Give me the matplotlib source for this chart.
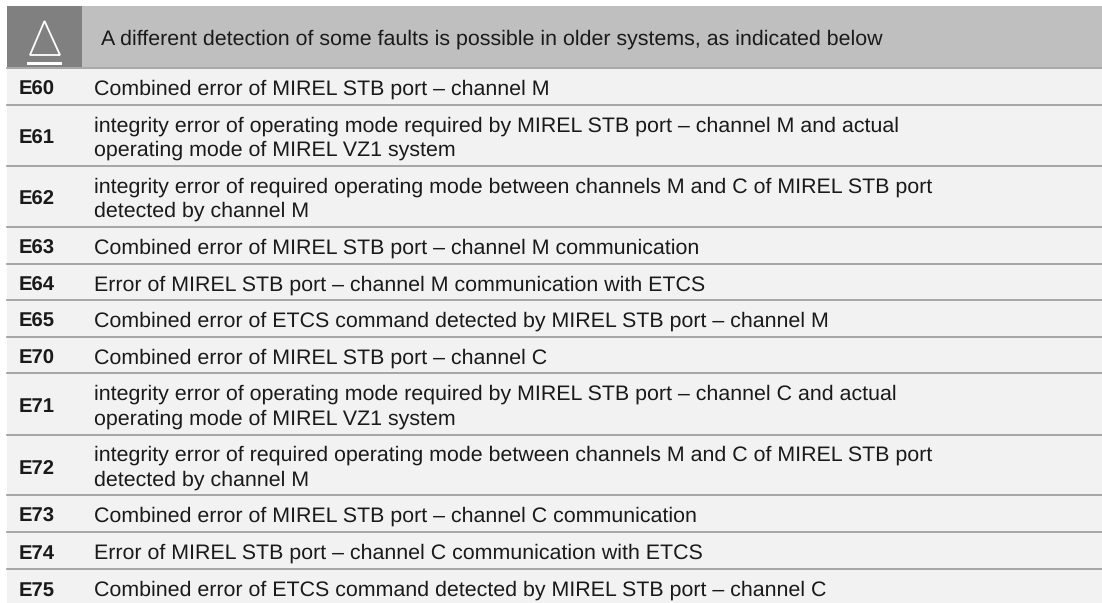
import matplotlib
matplotlib.use("Agg")
import matplotlib.pyplot as plt
from matplotlib.patches import Rectangle, Polygon

codes = ["E60", "E61", "E62", "E63", "E64", "E65", "E70", "E71", "E72", "E73", "E74", "E75"]
descriptions = [
    "Combined error of MIREL STB port \u2013 channel M",
    "integrity error of operating mode required by MIREL STB port \u2013 channel M and actual\noperating mode of MIREL VZ1 system",
    "integrity error of required operating mode between channels M and C of MIREL STB port\ndetected by channel M",
    "Combined error of MIREL STB port \u2013 channel M communication",
    "Error of MIREL STB port \u2013 channel M communication with ETCS",
    "Combined error of ETCS command detected by MIREL STB port \u2013 channel M",
    "Combined error of MIREL STB port \u2013 channel C",
    "integrity error of operating mode required by MIREL STB port \u2013 channel C and actual\noperating mode of MIREL VZ1 system",
    "integrity error of required operating mode between channels M and C of MIREL STB port\ndetected by channel M",
    "Combined error of MIREL STB port \u2013 channel C communication",
    "Error of MIREL STB port \u2013 channel C communication with ETCS",
    "Combined error of ETCS command detected by MIREL STB port \u2013 channel C",
]
header = "A different detection of some faults is possible in older systems, as indicated below"
# row bottom edges in pixels, last row runs off the image
row_lines = [105, 166, 227, 264, 300, 337, 373, 435, 495, 532, 569, 605]

plt.rcParams["font.family"] = ["Liberation Sans", "DejaVu Sans"]
plt.rcParams["text.hinting"] = "no_hinting"
plt.rcParams["text.hinting_factor"] = 8
fig = plt.figure(figsize=(11.02, 6.03), dpi=100)
ax = fig.add_axes([0, 0, 1, 1])
ax.set_xlim(0, 1102)
ax.set_ylim(603, 0)
ax.axis("off")

ax.add_patch(Rectangle((7, 6), 75, 61, color="#808080", lw=0))
ax.add_patch(Rectangle((82, 6), 1020, 61, color="#bfbfbf", lw=0))
ax.add_patch(Polygon([(44.5, 21), (30, 55), (60, 55)], closed=True, fill=False, ec="white", lw=1.3))
ax.add_patch(Rectangle((27, 62), 35, 2.6, color="white", lw=0))
ax.text(101, 45, header, fontsize=15.4, va="baseline", color="#1a1a1a")

ax.add_patch(Rectangle((7, 68), 1095, 535, color="#f2f2f2", lw=0))
ax.plot([7, 1102], [68, 68], color="#999999", lw=1.2)
top = 68
for code, desc, bottom in zip(codes, descriptions, row_lines):
    mid = (top + bottom) / 2
    ax.text(19, mid + 8.5, code, fontsize=14.6, fontweight="bold", va="baseline", color="#1a1a1a")
    lines = desc.split("\n")
    if len(lines) == 1:
        ax.text(94, mid + 8.5, lines[0], fontsize=15.4, va="baseline", color="#1a1a1a")
    else:
        ax.text(94, mid - 4, lines[0], fontsize=15.4, va="baseline", color="#1a1a1a")
        ax.text(94, mid + 20.5, lines[1], fontsize=15.4, va="baseline", color="#1a1a1a")
    if bottom < 603:
        ax.plot([7, 1102], [bottom, bottom], color="#999999", lw=1.2)
    top = bottom

fig.savefig("out.png", dpi=100)
